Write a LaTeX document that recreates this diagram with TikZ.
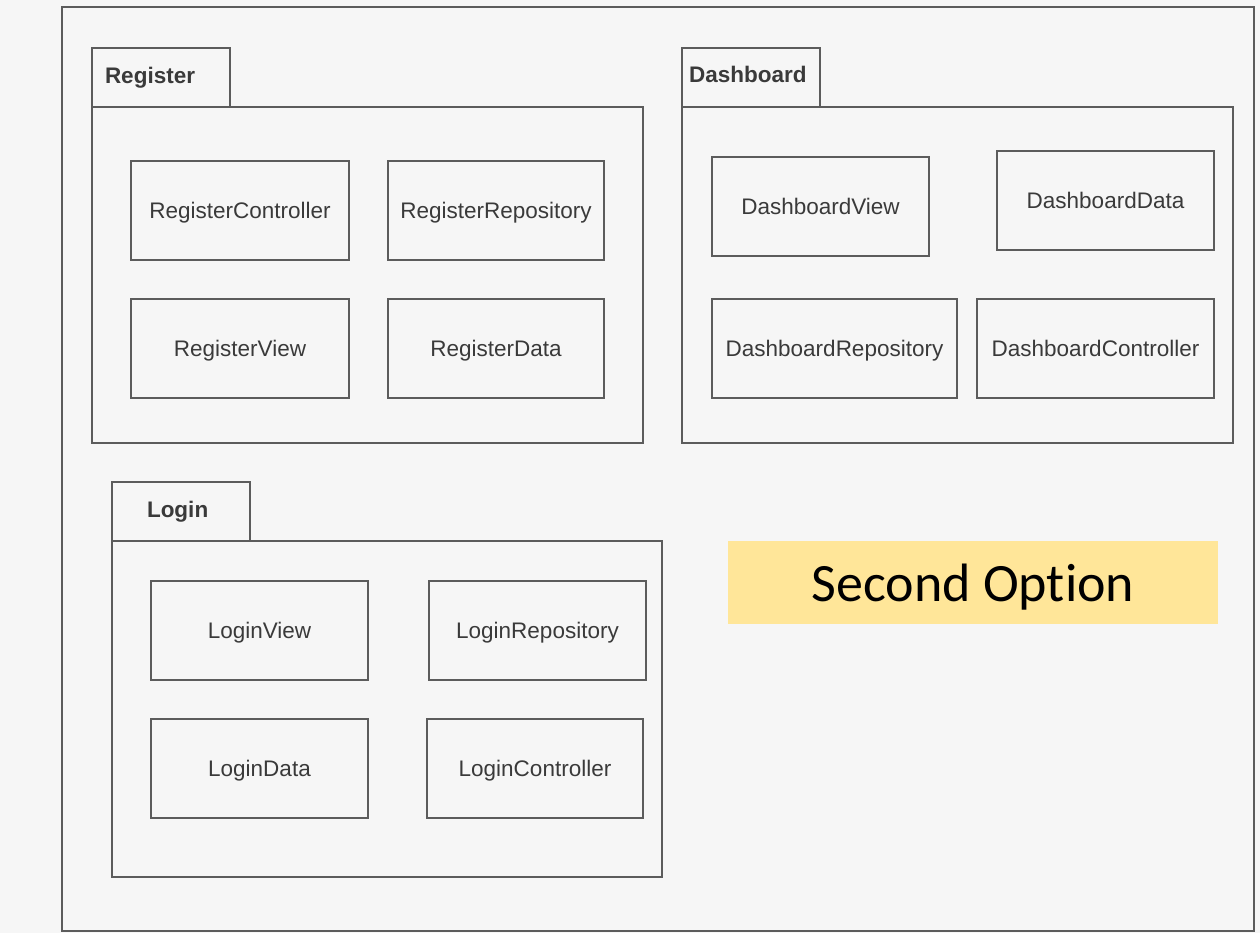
\documentclass[tikz,border=0pt]{standalone}
\usepackage{fontspec}
\setmainfont{Liberation Sans}
\newfontfamily\calibri[Ligatures=NoCommon]{Carlito}
\definecolor{linegray}{HTML}{5C5C5C}
\definecolor{textgray}{HTML}{3A3A3A}
\definecolor{paper}{HTML}{F6F6F6}
\definecolor{note}{HTML}{FFE699}
\tikzset{
  x=1pt, y=-1pt,
  every node/.style={inner sep=0pt, outer sep=0pt},
  outline/.style={draw=linegray, line width=2.4pt, anchor=north west},
  classbox/.style={outline, minimum height=99pt, text height=16pt, text depth=0pt,
    font=\fontsize{22.5}{26}\selectfont, text=textgray},
  pkgtab/.style={outline, minimum width=138pt, minimum height=59pt},
  pkglabel/.style={anchor=west, text height=16pt, text depth=0pt,
    font=\bfseries\fontsize{22.5}{26}\selectfont, text=textgray},
  notebox/.style={fill=note, anchor=north west, minimum width=490pt, minimum height=83pt,
    text height=37pt, text depth=0pt,
    font=\calibri\fontsize{54}{60}\selectfont, text=black}
}
\begin{document}
\begin{tikzpicture}
\useasboundingbox (0,0) rectangle (1260,933);
\fill[paper] (0,0) rectangle (1260,933);

% outer frame
\node[outline, minimum width=1192pt, minimum height=924pt] (frame) at (62,7) {};

% Register package
\node[pkgtab] (regtab) at (92,48) {};
\node[pkglabel] (reglbl) at (105,76) {Register};
\node[outline, minimum width=551pt, minimum height=336pt] (regpkg) at (92,107) {};
\node[classbox, minimum width=218pt] (regctrl) at (131,161) {RegisterController};
\node[classbox, minimum width=216pt] (regrepo) at (388,161) {RegisterRepository};
\node[classbox, minimum width=218pt] (regview) at (131,299) {RegisterView};
\node[classbox, minimum width=216pt] (regdata) at (388,299) {RegisterData};

% Dashboard package
\node[pkgtab] (dashtab) at (682,48) {};
\node[pkglabel] (dashlbl) at (689,75) {Dashboard};
\node[outline, minimum width=551pt, minimum height=336pt] (dashpkg) at (682,107) {};
\node[classbox, minimum width=217pt] (dashview) at (712,157) {DashboardView};
\node[classbox, minimum width=217pt] (dashdata) at (997,151) {DashboardData};
\node[classbox, minimum width=245pt] (dashrepo) at (712,299) {DashboardRepository};
\node[classbox, minimum width=237pt] (dashctrl) at (977,299) {DashboardController};

% Login package
\node[pkgtab] (logtab) at (112,482) {};
\node[pkglabel] (loglbl) at (147,509) {Login};
\node[outline, minimum width=550pt, minimum height=336pt] (logpkg) at (112,541) {};
\node[classbox, minimum width=217pt] (logview) at (151,581) {LoginView};
\node[classbox, minimum width=217pt] (logrepo) at (429,581) {LoginRepository};
\node[classbox, minimum width=217pt] (logdata) at (151,719) {LoginData};
\node[classbox, minimum width=216pt] (logctrl) at (427,719) {LoginController};

% caption note
\node[notebox] (option) at (728,541) {Second Option};
\end{tikzpicture}
\end{document}
